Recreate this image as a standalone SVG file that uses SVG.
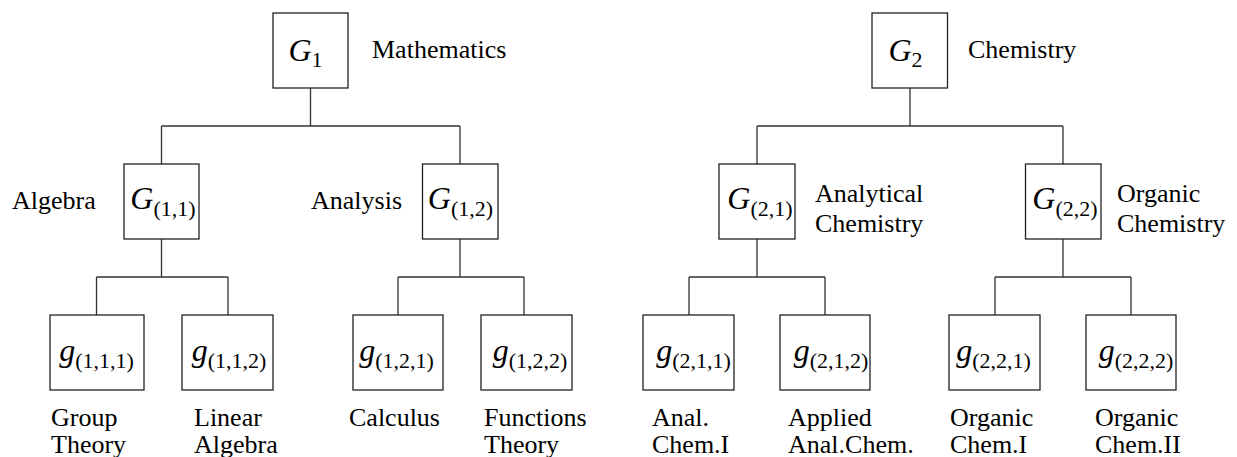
<svg xmlns="http://www.w3.org/2000/svg" width="1237" height="457" viewBox="0 0 1237 457" font-family="Liberation Serif, serif">
<rect width="1237" height="457" fill="#fff"/>
<g id="connectors" fill="none" stroke="#333" stroke-width="1.3">
<path d="M310.5 88V126M161.5 126H460M161.5 126V164M460 126V164"/>
<path d="M910 88V126M757 126H1063M757 126V164M1063 126V164"/>
<path d="M161.5 239V277M96.5 277H228M96.5 277V315M228 277V315"/>
<path d="M460 239V277M398 277H524M398 277V315M524 277V315"/>
<path d="M757 239V277M689 277H825M689 277V315M825 277V315"/>
<path d="M1063 239V277M995 277H1131M995 277V315M1131 277V315"/>
</g>
<g id="G1"><rect fill="#fff" stroke="#222" stroke-width="1.3" x="273" y="13" width="75" height="75"/><text font-family="Liberation Serif, serif" font-size="32" font-style="italic" x="305.5" y="61" text-anchor="middle">G<tspan font-size="22" font-style="normal" dy="6">1</tspan></text><text font-family="Liberation Serif, serif" font-size="26" x="372" y="58">Mathematics</text></g>
<g id="G2"><rect fill="#fff" stroke="#222" stroke-width="1.3" x="872" y="13" width="75.5" height="75"/><text font-family="Liberation Serif, serif" font-size="32" font-style="italic" x="905.5" y="61" text-anchor="middle">G<tspan font-size="22" font-style="normal" dy="6">2</tspan></text><text font-family="Liberation Serif, serif" font-size="26" x="968" y="58">Chemistry</text></g>
<g id="G11"><rect fill="#fff" stroke="#222" stroke-width="1.3" x="124" y="164" width="75" height="75"/><text font-family="Liberation Serif, serif" font-size="32" font-style="italic" x="163" y="209" text-anchor="middle">G<tspan font-size="22" font-style="normal" dy="7">(1,1)</tspan></text><text font-family="Liberation Serif, serif" font-size="26" x="12" y="209">Algebra</text></g>
<g id="G12"><rect fill="#fff" stroke="#222" stroke-width="1.3" x="422.5" y="164" width="75.5" height="75"/><text font-family="Liberation Serif, serif" font-size="32" font-style="italic" x="460.5" y="209" text-anchor="middle">G<tspan font-size="22" font-style="normal" dy="7">(1,2)</tspan></text><text font-family="Liberation Serif, serif" font-size="26" x="311" y="209">Analysis</text></g>
<g id="G21"><rect fill="#fff" stroke="#222" stroke-width="1.3" x="719" y="164" width="76" height="75"/><text font-family="Liberation Serif, serif" font-size="32" font-style="italic" x="760" y="209" text-anchor="middle">G<tspan font-size="22" font-style="normal" dy="7">(2,1)</tspan></text><text font-family="Liberation Serif, serif" font-size="26" x="815" y="202">Analytical</text><text font-family="Liberation Serif, serif" font-size="26" x="815" y="232">Chemistry</text></g>
<g id="G22"><rect fill="#fff" stroke="#222" stroke-width="1.3" x="1025.5" y="164" width="75.5" height="75"/><text font-family="Liberation Serif, serif" font-size="32" font-style="italic" x="1065" y="209" text-anchor="middle">G<tspan font-size="22" font-style="normal" dy="7">(2,2)</tspan></text><text font-family="Liberation Serif, serif" font-size="26" x="1117" y="202">Organic</text><text font-family="Liberation Serif, serif" font-size="26" x="1117" y="232">Chemistry</text></g>
<g id="g111"><rect fill="#fff" stroke="#222" stroke-width="1.3" x="50" y="315" width="94" height="75"/><text font-family="Liberation Serif, serif" font-size="32" font-style="italic" x="96.5" y="361" text-anchor="middle">g<tspan font-size="22" font-style="normal" dy="7">(1,1,1)</tspan></text><text font-family="Liberation Serif, serif" font-size="26" x="51" y="426">Group</text><text font-family="Liberation Serif, serif" font-size="26" x="51" y="453">Theory</text></g>
<g id="g112"><rect fill="#fff" stroke="#222" stroke-width="1.3" x="182" y="315" width="91" height="75"/><text font-family="Liberation Serif, serif" font-size="32" font-style="italic" x="229" y="361" text-anchor="middle">g<tspan font-size="22" font-style="normal" dy="7">(1,1,2)</tspan></text><text font-family="Liberation Serif, serif" font-size="26" x="194" y="426">Linear</text><text font-family="Liberation Serif, serif" font-size="26" x="194" y="453">Algebra</text></g>
<g id="g121"><rect fill="#fff" stroke="#222" stroke-width="1.3" x="353" y="315" width="90" height="75"/><text font-family="Liberation Serif, serif" font-size="32" font-style="italic" x="396.5" y="361" text-anchor="middle">g<tspan font-size="22" font-style="normal" dy="7">(1,2,1)</tspan></text><text font-family="Liberation Serif, serif" font-size="26" x="349" y="426">Calculus</text></g>
<g id="g122"><rect fill="#fff" stroke="#222" stroke-width="1.3" x="481" y="315" width="91" height="75"/><text font-family="Liberation Serif, serif" font-size="32" font-style="italic" x="530" y="361" text-anchor="middle">g<tspan font-size="22" font-style="normal" dy="7">(1,2,2)</tspan></text><text font-family="Liberation Serif, serif" font-size="26" x="484" y="426">Functions</text><text font-family="Liberation Serif, serif" font-size="26" x="484" y="453">Theory</text></g>
<g id="g211"><rect fill="#fff" stroke="#222" stroke-width="1.3" x="643" y="315" width="91" height="75"/><text font-family="Liberation Serif, serif" font-size="32" font-style="italic" x="693.5" y="361" text-anchor="middle">g<tspan font-size="22" font-style="normal" dy="7">(2,1,1)</tspan></text><text font-family="Liberation Serif, serif" font-size="26" x="652" y="426">Anal.</text><text font-family="Liberation Serif, serif" font-size="26" x="652" y="453">Chem.I</text></g>
<g id="g212"><rect fill="#fff" stroke="#222" stroke-width="1.3" x="780" y="315" width="90" height="75"/><text font-family="Liberation Serif, serif" font-size="32" font-style="italic" x="831" y="361" text-anchor="middle">g<tspan font-size="22" font-style="normal" dy="7">(2,1,2)</tspan></text><text font-family="Liberation Serif, serif" font-size="26" x="788" y="426">Applied</text><text font-family="Liberation Serif, serif" font-size="26" x="788" y="453">Anal.Chem.</text></g>
<g id="g221"><rect fill="#fff" stroke="#222" stroke-width="1.3" x="949" y="315" width="91" height="75"/><text font-family="Liberation Serif, serif" font-size="32" font-style="italic" x="993.5" y="361" text-anchor="middle">g<tspan font-size="22" font-style="normal" dy="7">(2,2,1)</tspan></text><text font-family="Liberation Serif, serif" font-size="26" x="950" y="426">Organic</text><text font-family="Liberation Serif, serif" font-size="26" x="950" y="453">Chem.I</text></g>
<g id="g222"><rect fill="#fff" stroke="#222" stroke-width="1.3" x="1086" y="315" width="90" height="75"/><text font-family="Liberation Serif, serif" font-size="32" font-style="italic" x="1136" y="361" text-anchor="middle">g<tspan font-size="22" font-style="normal" dy="7">(2,2,2)</tspan></text><text font-family="Liberation Serif, serif" font-size="26" x="1095" y="426">Organic</text><text font-family="Liberation Serif, serif" font-size="26" x="1095" y="453">Chem.II</text></g>
</svg>
